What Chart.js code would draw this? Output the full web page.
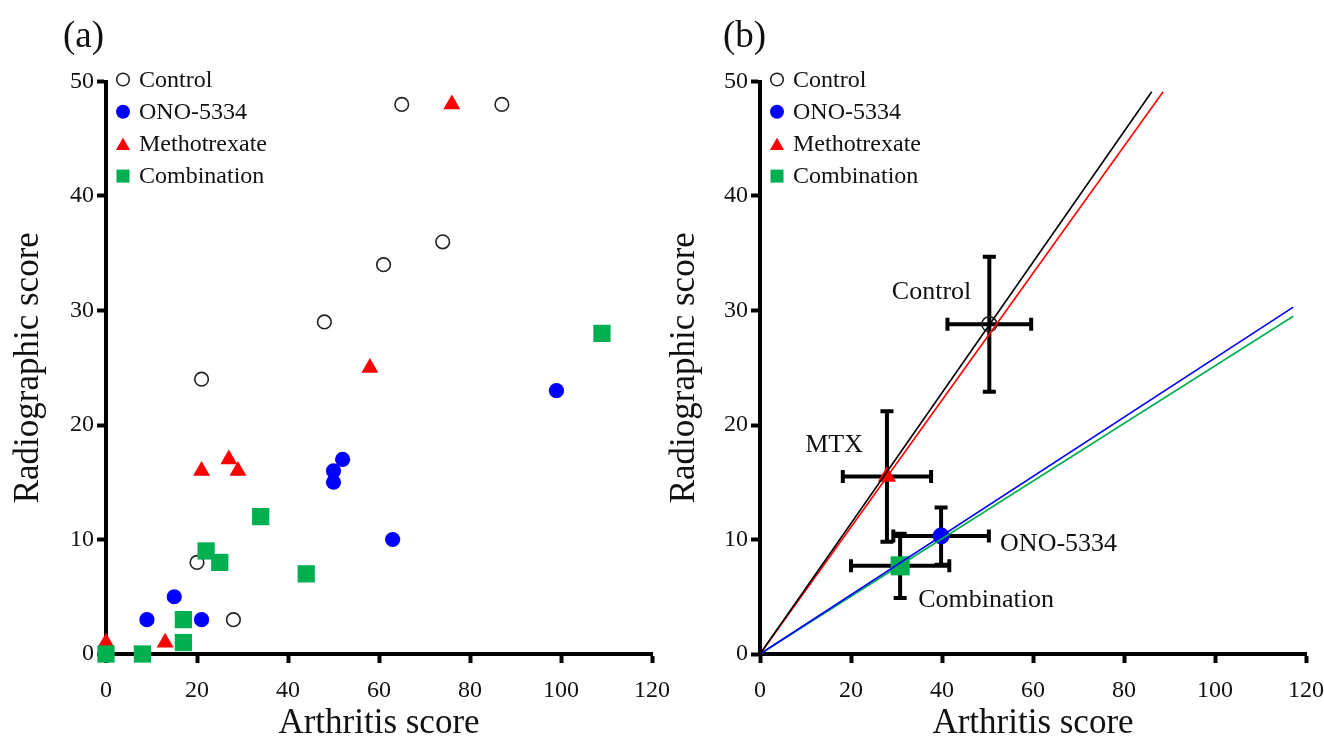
<!DOCTYPE html>
<html>
<head>
<meta charset="utf-8">
<script src="https://cdn.jsdelivr.net/npm/chart.js@4.4.1/dist/chart.umd.min.js"></script>
<style>
  html, body { margin: 0; padding: 0; background: #fff; overflow: hidden; }
  body { width: 1324px; height: 745px; position: relative; }
  canvas { position: absolute; top: 0; }
  #chartA { left: 0; }
  #chartB { left: 650px; }
</style>
</head>
<body>
<canvas id="chartA" width="690" height="745"></canvas>
<canvas id="chartB" width="690" height="745"></canvas>
<script>
// (a) individual animals: arthritis score (x) vs radiographic score (y)
const controlX = [65, 87, 74, 61, 48, 21, 20, 28];
const controlY = [48, 48, 36, 34, 29, 24, 8, 3];
const onoX = [99, 63, 52, 50, 50, 15, 9, 21];
const onoY = [23, 10, 17, 16, 15, 5, 3, 3];
const mtxX = [76, 58, 21, 27, 29, 13, 0];
const mtxY = [48, 25, 16, 17, 16, 1, 1];
const comboX = [109, 34, 22, 25, 44, 17, 17, 8, 0];
const comboY = [28, 12, 9, 8, 7, 3, 1, 0, 0];

// (b) group means +/- SD, order: Control, MTX, ONO-5334, Combination
const groupLabels = ['Control', 'MTX', 'ONO-5334', 'Combination'];
const meanX = [50.4, 27.9, 39.8, 30.8];
const meanY = [28.8, 15.5, 10.3, 7.7];
const sdX = [9.2, 9.7, 10.5, 10.8];
const sdY = [5.9, 5.7, 2.5, 2.8];

// regression lines through the origin (end points), same group order
const fitEndX = [86.1, 88.6, 117.2, 117.2];
const fitEndY = [49.1, 49.1, 30.3, 29.5];

const xTicks = [0, 20, 40, 60, 80, 100, 120];
const yTicks = [0, 10, 20, 30, 40, 50];
const legendNames = ['Control', 'ONO-5334', 'Methotrexate', 'Combination'];

const SERIF = "'Liberation Serif', 'Times New Roman', serif";
const INK = '#111';

const BLUE = '#0000ff';
const RED = '#ff0000';
const GREEN = '#00b050';

// marker look per group, shared by points and the legend
const markers = {
  'Control':      { pointStyle: 'circle',   fill: 'rgba(0,0,0,0)', stroke: '#222', border: 1.6 },
  'ONO-5334':     { pointStyle: 'circle',   fill: BLUE,  stroke: BLUE,  border: 0 },
  'Methotrexate': { pointStyle: 'triangle', fill: RED,   stroke: RED,   border: 0 },
  'Combination':  { pointStyle: 'rect',     fill: GREEN, stroke: GREEN, border: 0 }
};
const legendRadius = { 'Control': 6.3, 'ONO-5334': 7, 'Methotrexate': 8.2, 'Combination': 9.2 };

function pts(xs, ys) {
  return xs.map((x, i) => ({ x: x, y: ys[i] }));
}

function scatterSet(name, data, radius) {
  const m = markers[name];
  return {
    label: name,
    data: data,
    pointStyle: m.pointStyle,
    pointRadius: radius,
    pointHoverRadius: radius,
    backgroundColor: m.fill,
    borderColor: m.stroke,
    pointBorderWidth: m.border,
    showLine: false,
    clip: false
  };
}

function fitLine(i, colour) {
  return {
    label: 'fit ' + groupLabels[i],
    data: [{ x: 0, y: 0 }, { x: fitEndX[i], y: fitEndY[i] }],
    showLine: true,
    borderColor: colour,
    borderWidth: 1.6,
    pointRadius: 0,
    fill: false,
    clip: false
  };
}

function makeScales(yWidth, yTitlePad) {
  const tickFont = { family: SERIF, size: 24 };
  const titleFont = { family: SERIF, size: 35 };
  const grid = { drawOnChartArea: false, drawTicks: true, tickLength: 9, tickWidth: 4, tickColor: '#000' };
  return {
    x: {
      type: 'linear', min: 0, max: 120,
      afterBuildTicks: s => { s.ticks = xTicks.map(v => ({ value: v })); },
      ticks: { font: tickFont, color: INK, padding: 13, autoSkip: false, maxRotation: 0 },
      grid: grid,
      border: { width: 4, color: '#000' },
      title: { display: true, text: 'Arthritis score', font: titleFont, color: INK, padding: { top: 0, bottom: 0 } },
      afterFit: s => { s.height = 91; }
    },
    y: {
      type: 'linear', min: 0, max: 50,
      afterBuildTicks: s => { s.ticks = yTicks.map(v => ({ value: v })); },
      ticks: { font: tickFont, color: INK, padding: 3, autoSkip: false },
      grid: grid,
      border: { width: 4, color: '#000' },
      title: { display: true, text: 'Radiographic score', font: titleFont, color: INK, padding: { top: yTitlePad, bottom: 0 } },
      afterFit: s => { s.width = yWidth; }
    }
  };
}

// legend block in the upper left corner of each panel
const cornerLegend = {
  id: 'cornerLegend',
  afterDraw(chart) {
    const { ctx, chartArea } = chart;
    const mx = chartArea.left + 17;
    const tx = chartArea.left + 33;
    ctx.save();
    ctx.font = '24px ' + SERIF;
    ctx.textBaseline = 'middle';
    ctx.textAlign = 'left';
    legendNames.forEach((name, i) => {
      const y = chartArea.top - 2 + i * 32.2;
      const m = markers[name];
      const r = legendRadius[name];
      ctx.fillStyle = m.fill;
      ctx.strokeStyle = m.stroke;
      ctx.lineWidth = m.border;
      Chart.helpers.drawPoint(ctx, { pointStyle: m.pointStyle, radius: r, borderWidth: m.border, rotation: 0 },
        mx, m.pointStyle === 'triangle' ? y + r / 4 : y);
      ctx.fillStyle = INK;
      ctx.fillText(name, tx, y + 1);
    });
    ctx.restore();
  }
};

// "(a)" / "(b)" panel tags
const panelTag = {
  id: 'panelTag',
  afterDraw(chart, args, opts) {
    const ctx = chart.ctx;
    ctx.save();
    ctx.font = '37px ' + SERIF;
    ctx.fillStyle = INK;
    ctx.textBaseline = 'middle';
    ctx.textAlign = 'left';
    ctx.fillText(opts.text, opts.x, 37);
    ctx.restore();
  }
};

// SD crosses under the group means of panel (b)
const errorBars = {
  id: 'errorBars',
  beforeDatasetsDraw(chart) {
    const { ctx } = chart;
    const xs = chart.scales.x, ys = chart.scales.y;
    const cap = 6.5;
    ctx.save();
    ctx.strokeStyle = '#000';
    ctx.lineWidth = 4;
    meanX.forEach((mx, i) => {
      const px = xs.getPixelForValue(mx);
      const py = ys.getPixelForValue(meanY[i]);
      const x0 = xs.getPixelForValue(mx - sdX[i]);
      const x1 = xs.getPixelForValue(mx + sdX[i]);
      const y0 = ys.getPixelForValue(meanY[i] - sdY[i]);
      const y1 = ys.getPixelForValue(meanY[i] + sdY[i]);
      ctx.beginPath();
      ctx.moveTo(x0, py); ctx.lineTo(x1, py);
      ctx.moveTo(x0, py - cap); ctx.lineTo(x0, py + cap);
      ctx.moveTo(x1, py - cap); ctx.lineTo(x1, py + cap);
      ctx.moveTo(px, y0); ctx.lineTo(px, y1);
      ctx.moveTo(px - cap, y0); ctx.lineTo(px + cap, y0);
      ctx.moveTo(px - cap, y1); ctx.lineTo(px + cap, y1);
      ctx.stroke();
    });
    ctx.restore();
  }
};

// group names next to the means of panel (b)
const groupNames = {
  id: 'groupNames',
  afterDatasetsDraw(chart) {
    const { ctx } = chart;
    const xs = chart.scales.x, ys = chart.scales.y;
    const place = [[-18, -32, 'right'], [-24, -31, 'right'], [59, 8, 'left'], [18, 34, 'left']];
    ctx.save();
    ctx.font = '26px ' + SERIF;
    ctx.fillStyle = INK;
    ctx.textBaseline = 'middle';
    groupLabels.forEach((name, i) => {
      const px = xs.getPixelForValue(meanX[i]);
      const py = ys.getPixelForValue(meanY[i]);
      ctx.textAlign = place[i][2];
      ctx.fillText(name, px + place[i][0], py + place[i][1]);
    });
    ctx.restore();
  }
};

const common = {
  responsive: false,
  animation: false,
  events: [],
  plugins: {
    legend: { display: false },
    tooltip: { enabled: false }
  }
};

new Chart(document.getElementById('chartA'), {
  type: 'scatter',
  data: {
    datasets: [
      scatterSet('Combination', pts(comboX, comboY), 12.2),
      scatterSet('Methotrexate', pts(mtxX, mtxY), 9.8),
      scatterSet('ONO-5334', pts(onoX, onoY), 7.6),
      scatterSet('Control', pts(controlX, controlY), 6.8)
    ]
  },
  options: Object.assign({}, common, {
    layout: { padding: { left: 0, top: 81.5, right: 38, bottom: 0 } },
    scales: makeScales(106, 8),
    plugins: Object.assign({}, common.plugins, { panelTag: { text: '(a)', x: 63 } })
  }),
  plugins: [cornerLegend, panelTag]
});

new Chart(document.getElementById('chartB'), {
  type: 'scatter',
  data: {
    datasets: [
      fitLine(0, '#000000'),
      fitLine(1, RED),
      fitLine(2, BLUE),
      fitLine(3, GREEN),
      scatterSet('Control', [{ x: meanX[0], y: meanY[0] }], 7.5),
      scatterSet('Methotrexate', [{ x: meanX[1], y: meanY[1] }], 10.5),
      scatterSet('ONO-5334', [{ x: meanX[2], y: meanY[2] }], 8.5),
      scatterSet('Combination', [{ x: meanX[3], y: meanY[3] }], 13.5)
    ]
  },
  options: Object.assign({}, common, {
    layout: { padding: { left: 0, top: 81.5, right: 34, bottom: 0 } },
    scales: makeScales(110, 14),
    plugins: Object.assign({}, common.plugins, { panelTag: { text: '(b)', x: 73 } })
  }),
  plugins: [errorBars, cornerLegend, groupNames, panelTag]
});
</script>
</body>
</html>
